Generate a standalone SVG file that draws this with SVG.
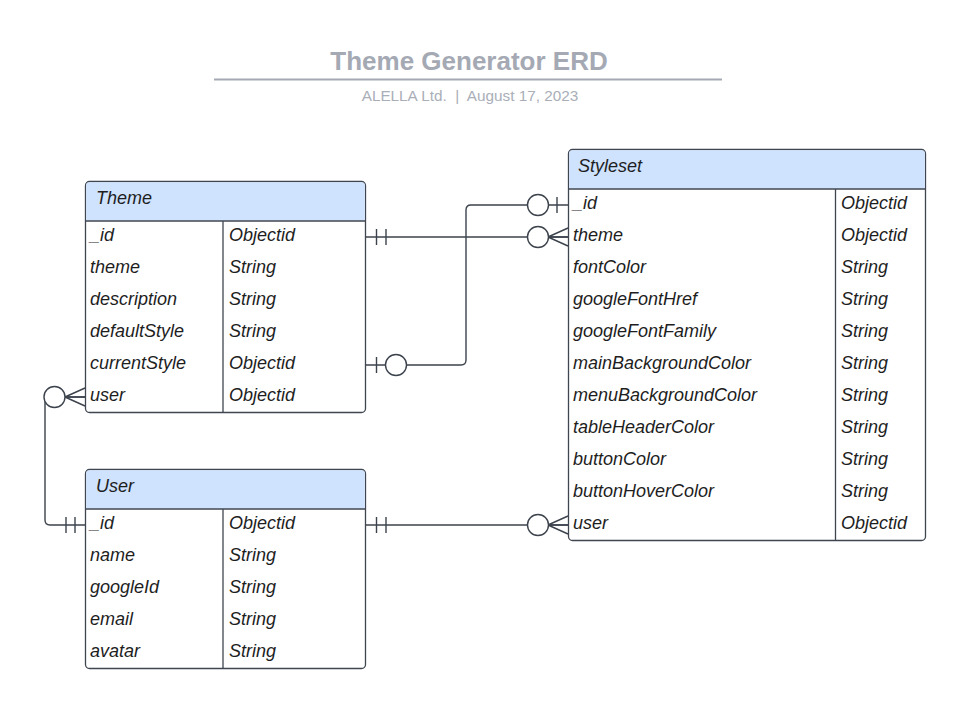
<svg xmlns="http://www.w3.org/2000/svg" width="967" height="709" viewBox="0 0 967 709">
<style>
.bg{fill:#ffffff}
.box{fill:#ffffff;stroke:#3f4650;stroke-width:1.3}
.hdr{fill:#cfe3fe}
.sep{stroke:#3f4650;stroke-width:1.3;fill:none}
.t{font-family:"Liberation Sans",Arial,sans-serif;font-style:italic;font-size:18px;fill:#1e1e1e}
.title{font-family:"Liberation Sans",Arial,sans-serif;font-weight:bold;font-size:26px;fill:#a4a9b4}
.sub{font-family:"Liberation Sans",Arial,sans-serif;font-size:15.3px;fill:#a9aeb8}
.c{stroke:#3c434d;stroke-width:1.4;fill:none}
.o{stroke:#3c434d;stroke-width:1.4;fill:#ffffff}
</style>
<rect class="bg" x="0" y="0" width="967" height="709"/>
<g id="title">
<text class="title" x="469" y="70" text-anchor="middle">Theme Generator ERD</text>
<line x1="214" y1="79.5" x2="722" y2="79.5" stroke="#a4a9b4" stroke-width="2"/>
<text class="sub" x="470" y="100.5" text-anchor="middle" xml:space="preserve">ALELLA Ltd.  |  August 17, 2023</text>
</g>
<g id="connectors">
<!-- Theme._id to Styleset.theme -->
<line class="c" x1="366" y1="237" x2="568" y2="237"/>
<line class="c" x1="376.5" y1="229" x2="376.5" y2="245"/>
<line class="c" x1="386" y1="229" x2="386" y2="245"/>
<path class="c" d="M548,237 L568,228 M548,237 L568,237 M548,237 L568,246"/>
<circle class="o" cx="538" cy="237" r="10.5"/>
<!-- Theme.currentStyle to Styleset._id -->
<path class="c" d="M366,365 H461 Q466,365 466,360 V210 Q466,205 471,205 H568"/>
<line class="c" x1="376.5" y1="357" x2="376.5" y2="373"/>
<circle class="o" cx="396" cy="365" r="10.5"/>
<line class="c" x1="557" y1="197" x2="557" y2="213"/>
<circle class="o" cx="538" cy="205" r="10.5"/>
<!-- User._id to Theme.user -->
<path class="c" d="M85,525 H50 Q45,525 45,520 V402 Q45,397 50,397 H85"/>
<line class="c" x1="66" y1="517" x2="66" y2="533"/>
<line class="c" x1="75" y1="517" x2="75" y2="533"/>
<path class="c" d="M65,397 L85,388 M65,397 L85,397 M65,397 L85,406"/>
<circle class="o" cx="54.5" cy="397" r="10.5"/>
<!-- User._id to Styleset.user -->
<line class="c" x1="366" y1="525" x2="568" y2="525"/>
<line class="c" x1="376.5" y1="517" x2="376.5" y2="533"/>
<line class="c" x1="386" y1="517" x2="386" y2="533"/>
<path class="c" d="M548,525 L568,516 M548,525 L568,525 M548,525 L568,534"/>
<circle class="o" cx="538" cy="525" r="10.5"/>
</g>
<g id="Theme">
<rect class="box" x="85.5" y="181.5" width="280" height="231" rx="4"/>
<path class="hdr" d="M86.2,220.8 V185.5 Q86.2,182.2 89.5,182.2 H361.5 Q364.8,182.2 364.8,185.5 V220.8 Z"/>
<line class="sep" x1="85.5" y1="221" x2="365.5" y2="221"/>
<line class="sep" x1="223" y1="221" x2="223" y2="412.5"/>
<text class="t" x="96" y="204">Theme</text>
<text class="t" x="90" y="240.5">_id</text><text class="t" x="229" y="240.5">Objectid</text>
<text class="t" x="90" y="272.5">theme</text><text class="t" x="229" y="272.5">String</text>
<text class="t" x="90" y="304.5">description</text><text class="t" x="229" y="304.5">String</text>
<text class="t" x="90" y="336.5">defaultStyle</text><text class="t" x="229" y="336.5">String</text>
<text class="t" x="90" y="368.5">currentStyle</text><text class="t" x="229" y="368.5">Objectid</text>
<text class="t" x="90" y="400.5">user</text><text class="t" x="229" y="400.5">Objectid</text>
</g>
<g id="User">
<rect class="box" x="85.5" y="469.5" width="280" height="199" rx="4"/>
<path class="hdr" d="M86.2,508.8 V473.5 Q86.2,470.2 89.5,470.2 H361.5 Q364.8,470.2 364.8,473.5 V508.8 Z"/>
<line class="sep" x1="85.5" y1="509" x2="365.5" y2="509"/>
<line class="sep" x1="223" y1="509" x2="223" y2="668.5"/>
<text class="t" x="96" y="492">User</text>
<text class="t" x="90" y="528.5">_id</text><text class="t" x="229" y="528.5">Objectid</text>
<text class="t" x="90" y="560.5">name</text><text class="t" x="229" y="560.5">String</text>
<text class="t" x="90" y="592.5">googleId</text><text class="t" x="229" y="592.5">String</text>
<text class="t" x="90" y="624.5">email</text><text class="t" x="229" y="624.5">String</text>
<text class="t" x="90" y="656.5">avatar</text><text class="t" x="229" y="656.5">String</text>
</g>
<g id="Styleset">
<rect class="box" x="568.5" y="149.5" width="357" height="391" rx="4"/>
<path class="hdr" d="M569.2,188.8 V153.5 Q569.2,150.2 572.5,150.2 H921.5 Q924.8,150.2 924.8,153.5 V188.8 Z"/>
<line class="sep" x1="568.5" y1="189" x2="925.5" y2="189"/>
<line class="sep" x1="835.5" y1="189" x2="835.5" y2="540.5"/>
<text class="t" x="578" y="172">Styleset</text>
<text class="t" x="573" y="208.5">_id</text><text class="t" x="841" y="208.5">Objectid</text>
<text class="t" x="573" y="240.5">theme</text><text class="t" x="841" y="240.5">Objectid</text>
<text class="t" x="573" y="272.5">fontColor</text><text class="t" x="841" y="272.5">String</text>
<text class="t" x="573" y="304.5">googleFontHref</text><text class="t" x="841" y="304.5">String</text>
<text class="t" x="573" y="336.5">googleFontFamily</text><text class="t" x="841" y="336.5">String</text>
<text class="t" x="573" y="368.5">mainBackgroundColor</text><text class="t" x="841" y="368.5">String</text>
<text class="t" x="573" y="400.5">menuBackgroundColor</text><text class="t" x="841" y="400.5">String</text>
<text class="t" x="573" y="432.5">tableHeaderColor</text><text class="t" x="841" y="432.5">String</text>
<text class="t" x="573" y="464.5">buttonColor</text><text class="t" x="841" y="464.5">String</text>
<text class="t" x="573" y="496.5">buttonHoverColor</text><text class="t" x="841" y="496.5">String</text>
<text class="t" x="573" y="528.5">user</text><text class="t" x="841" y="528.5">Objectid</text>
</g>
</svg>
